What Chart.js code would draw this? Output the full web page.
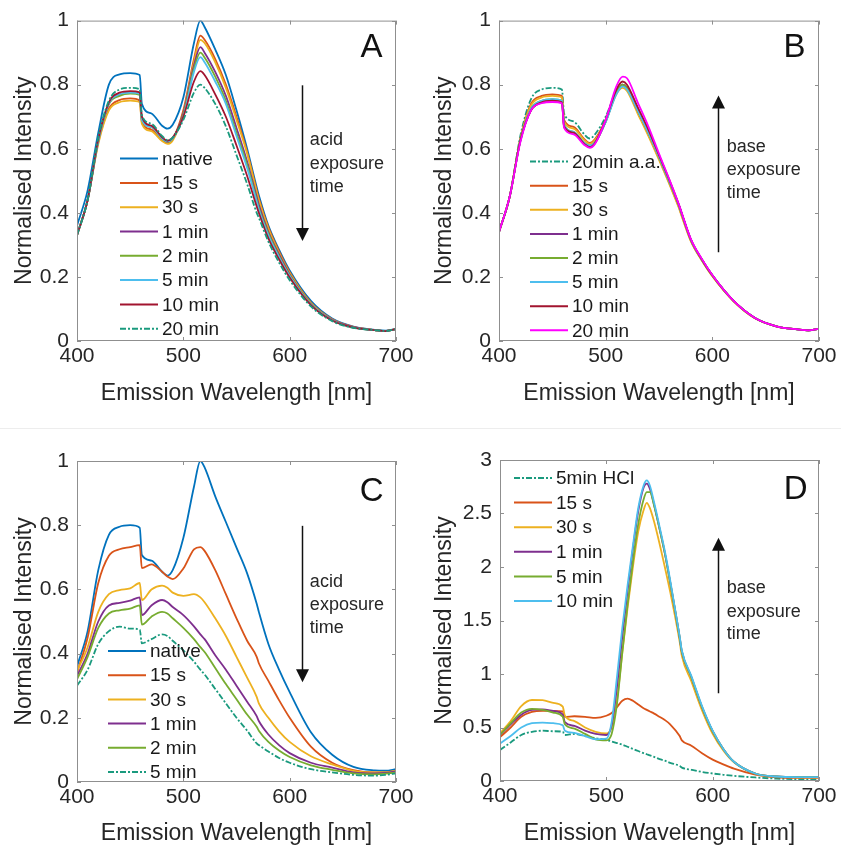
<!DOCTYPE html>
<html>
<head>
<meta charset="utf-8">
<title>Emission spectra</title>
<script src="https://cdn.jsdelivr.net/npm/chart.js@4.4.1/dist/chart.umd.min.js"></script>
<style>
  body { margin: 0; background: #fff; }
  #page { position: relative; width: 841px; height: 848px; overflow: hidden; }
  canvas { position: absolute; }
  .rule { position: absolute; left: 0; top: 428px; width: 841px; height: 1px; background: #ededed; }
</style>
</head>
<body>
<div id="page">
  <div class="rule"></div>
  <canvas id="chartA" width="420" height="410" style="left:0;top:0"></canvas>
  <canvas id="chartB" width="421" height="410" style="left:420px;top:0"></canvas>
  <canvas id="chartC" width="420" height="423" style="left:0;top:425px"></canvas>
  <canvas id="chartD" width="421" height="423" style="left:420px;top:425px"></canvas>
</div>
<script>
// wavelengths (nm) the spectra were read at; 459/461 and 569/571 bracket the detector steps
const wavelengthABC = [400,410,420,430,440,450,459,461,470,480,485,490,500,510,516,520,530,540,550,560,569,571,580,590,600,620,640,660,680,690,700];
const wavelengthD = [400,410,420,430,440,450,459,461,470,480,490,500,505,510,515,520,525,530,535,538,541,545,550,555,560,569,571,580,590,600,610,620,640,660,680,700];

// panel A - acid exposure
const labelsA = ['native','15 s','30 s','1 min','2 min','5 min','10 min','20 min'];
const nativeA = [0.36,0.47,0.65,0.80,0.832,0.836,0.83,0.74,0.71,0.672,0.663,0.675,0.76,0.93,1.0,0.98,0.91,0.83,0.72,0.60,0.48,0.455,0.36,0.285,0.22,0.125,0.07,0.045,0.035,0.032,0.038];
const s15A = [0.33,0.44,0.62,0.725,0.752,0.757,0.75,0.683,0.66,0.628,0.618,0.63,0.72,0.88,0.953,0.94,0.88,0.80,0.70,0.59,0.47,0.445,0.355,0.28,0.215,0.12,0.068,0.044,0.034,0.031,0.037];
const s30A = [0.33,0.44,0.615,0.72,0.745,0.75,0.745,0.678,0.655,0.624,0.615,0.626,0.71,0.87,0.94,0.93,0.87,0.79,0.69,0.585,0.465,0.44,0.35,0.275,0.212,0.118,0.067,0.043,0.034,0.031,0.037];
const m1A = [0.33,0.44,0.625,0.74,0.768,0.775,0.77,0.695,0.67,0.634,0.622,0.632,0.71,0.86,0.917,0.90,0.84,0.765,0.665,0.56,0.45,0.425,0.34,0.27,0.208,0.116,0.066,0.043,0.034,0.031,0.037];
const m2A = [0.33,0.44,0.625,0.74,0.765,0.772,0.768,0.69,0.668,0.632,0.622,0.632,0.705,0.85,0.90,0.885,0.825,0.75,0.65,0.55,0.44,0.415,0.335,0.265,0.205,0.115,0.065,0.042,0.034,0.031,0.037];
const m5A = [0.33,0.44,0.625,0.742,0.77,0.775,0.772,0.69,0.668,0.632,0.623,0.633,0.70,0.84,0.886,0.87,0.81,0.74,0.64,0.54,0.435,0.41,0.33,0.262,0.203,0.114,0.065,0.042,0.034,0.031,0.037];
const m10A = [0.33,0.44,0.63,0.745,0.775,0.78,0.776,0.70,0.672,0.636,0.625,0.635,0.70,0.81,0.842,0.83,0.77,0.70,0.61,0.515,0.42,0.40,0.32,0.255,0.198,0.112,0.064,0.042,0.034,0.031,0.037];
const m20A = [0.33,0.44,0.635,0.75,0.785,0.79,0.786,0.705,0.678,0.64,0.627,0.635,0.69,0.775,0.80,0.79,0.74,0.67,0.58,0.49,0.40,0.385,0.31,0.245,0.19,0.108,0.062,0.041,0.034,0.031,0.037];

// panel B - base exposure after 20 min acid
const labelsB = ['20min a.a.','15 s','30 s','1 min','2 min','5 min','10 min','20 min'];
const aa20B = [0.34,0.45,0.64,0.755,0.785,0.79,0.785,0.71,0.685,0.645,0.632,0.645,0.70,0.78,0.80,0.79,0.72,0.65,0.575,0.495,0.42,0.40,0.315,0.255,0.205,0.125,0.072,0.046,0.036,0.033,0.038];
const s15B = [0.34,0.45,0.63,0.74,0.765,0.77,0.765,0.69,0.668,0.63,0.618,0.63,0.69,0.775,0.80,0.79,0.715,0.645,0.57,0.49,0.415,0.395,0.312,0.253,0.203,0.124,0.071,0.046,0.036,0.033,0.038];
const s30B = [0.34,0.45,0.63,0.735,0.76,0.765,0.76,0.685,0.663,0.627,0.615,0.627,0.685,0.77,0.79,0.78,0.71,0.64,0.565,0.487,0.412,0.392,0.31,0.252,0.202,0.124,0.071,0.046,0.036,0.033,0.038];
const m1B = [0.34,0.45,0.625,0.72,0.745,0.75,0.745,0.67,0.65,0.615,0.605,0.618,0.685,0.775,0.80,0.79,0.72,0.65,0.575,0.495,0.42,0.40,0.315,0.255,0.205,0.125,0.072,0.046,0.036,0.033,0.038];
const m2B = [0.34,0.45,0.625,0.725,0.75,0.755,0.75,0.675,0.653,0.618,0.61,0.62,0.685,0.775,0.80,0.79,0.72,0.65,0.575,0.495,0.42,0.40,0.315,0.255,0.205,0.125,0.072,0.046,0.036,0.033,0.038];
const m5B = [0.34,0.45,0.625,0.725,0.75,0.755,0.75,0.675,0.653,0.618,0.61,0.62,0.683,0.77,0.795,0.785,0.72,0.65,0.575,0.495,0.42,0.40,0.315,0.255,0.205,0.125,0.072,0.046,0.036,0.033,0.038];
const m10B = [0.34,0.45,0.625,0.72,0.745,0.75,0.745,0.67,0.65,0.615,0.605,0.618,0.69,0.785,0.81,0.80,0.73,0.66,0.58,0.50,0.422,0.402,0.316,0.256,0.205,0.125,0.072,0.046,0.036,0.033,0.038];
const m20B = [0.34,0.45,0.62,0.72,0.742,0.746,0.742,0.665,0.645,0.612,0.603,0.615,0.69,0.795,0.825,0.82,0.745,0.67,0.585,0.502,0.423,0.403,0.317,0.257,0.206,0.125,0.072,0.046,0.036,0.033,0.038];

// panel C - acid exposure, second sample
const labelsC = ['native','15 s','30 s','1 min','2 min','5 min'];
const nativeC = [0.36,0.47,0.66,0.77,0.795,0.80,0.792,0.707,0.69,0.655,0.643,0.66,0.76,0.92,1.0,0.98,0.89,0.81,0.73,0.65,0.555,0.53,0.43,0.35,0.28,0.155,0.085,0.047,0.036,0.035,0.04];
const s15C = [0.34,0.45,0.62,0.705,0.725,0.732,0.738,0.666,0.678,0.655,0.64,0.632,0.665,0.725,0.732,0.72,0.66,0.585,0.51,0.44,0.39,0.37,0.315,0.255,0.20,0.11,0.06,0.037,0.03,0.03,0.035];
const s30C = [0.345,0.42,0.53,0.585,0.598,0.603,0.62,0.567,0.60,0.612,0.605,0.59,0.58,0.585,0.575,0.56,0.51,0.455,0.39,0.325,0.265,0.245,0.20,0.158,0.125,0.08,0.055,0.035,0.03,0.03,0.035];
const m1C = [0.33,0.40,0.50,0.55,0.558,0.565,0.575,0.52,0.55,0.567,0.56,0.545,0.52,0.485,0.46,0.445,0.395,0.35,0.30,0.25,0.205,0.19,0.148,0.115,0.09,0.06,0.045,0.03,0.027,0.028,0.033];
const m2C = [0.32,0.39,0.48,0.525,0.535,0.54,0.55,0.49,0.515,0.53,0.525,0.51,0.48,0.445,0.42,0.405,0.355,0.305,0.258,0.21,0.172,0.16,0.125,0.098,0.078,0.052,0.038,0.027,0.024,0.026,0.03];
const m5C = [0.30,0.35,0.43,0.47,0.484,0.478,0.475,0.432,0.445,0.46,0.455,0.44,0.41,0.375,0.35,0.335,0.29,0.245,0.20,0.16,0.12,0.115,0.095,0.075,0.06,0.04,0.03,0.022,0.02,0.022,0.027];

// panel D - base exposure after 5 min HCl
const labelsD = ['5min HCl','15 s','30 s','1 min','5 min','10 min'];
const hclD = [0.29,0.36,0.43,0.46,0.47,0.465,0.46,0.43,0.44,0.42,0.40,0.385,0.37,0.355,0.34,0.32,0.30,0.28,0.26,0.25,0.24,0.225,0.205,0.19,0.17,0.14,0.125,0.105,0.085,0.07,0.058,0.048,0.033,0.022,0.017,0.015];
const s15D = [0.41,0.50,0.60,0.645,0.655,0.655,0.65,0.60,0.605,0.60,0.59,0.61,0.635,0.69,0.75,0.77,0.75,0.715,0.68,0.665,0.65,0.63,0.60,0.57,0.53,0.42,0.38,0.33,0.26,0.20,0.155,0.115,0.06,0.035,0.03,0.03];
const s30D = [0.445,0.56,0.70,0.757,0.755,0.73,0.695,0.61,0.56,0.50,0.46,0.445,0.50,0.75,1.2,1.62,2.0,2.33,2.53,2.60,2.55,2.42,2.22,2.0,1.77,1.30,1.17,0.93,0.66,0.44,0.285,0.175,0.068,0.04,0.035,0.035];
const m1D = [0.43,0.53,0.62,0.665,0.67,0.655,0.62,0.55,0.515,0.47,0.44,0.43,0.52,0.88,1.35,1.78,2.17,2.52,2.74,2.78,2.73,2.58,2.36,2.13,1.86,1.34,1.21,0.97,0.69,0.465,0.30,0.18,0.07,0.042,0.037,0.037];
const m5D = [0.43,0.54,0.64,0.675,0.665,0.64,0.60,0.53,0.49,0.44,0.39,0.38,0.44,0.72,1.2,1.65,2.05,2.40,2.63,2.70,2.70,2.57,2.36,2.13,1.86,1.34,1.21,0.97,0.69,0.465,0.30,0.18,0.07,0.042,0.037,0.037];
const m10D = [0.35,0.42,0.50,0.54,0.545,0.54,0.52,0.47,0.45,0.42,0.39,0.395,0.55,0.97,1.43,1.83,2.2,2.55,2.76,2.81,2.76,2.6,2.38,2.15,1.88,1.35,1.22,0.98,0.70,0.47,0.30,0.18,0.07,0.042,0.037,0.037];

const FONT = "'Liberation Sans', Arial, Helvetica, sans-serif";
const INK = '#262626';
const BLUE = '#0072bd', ORANGE = '#d95319', YELLOW = '#edb120', PURPLE = '#7e2f8e';
const GREEN = '#77ac30', CYAN = '#4dbeee', WINE = '#a2142f', TEAL = '#1a9a7e', MAGENTA = '#ff00ff';
const DASHDOT = [6, 2, 2, 2];

// MATLAB-like box, inward ticks, in-axes legend and the annotations
const specFrame = {
    id: 'specFrame',
    afterDatasetsDraw(chart, args, opts) {
        const ctx = chart.ctx;
        const area = chart.chartArea;
        const xs = chart.scales.x, ys = chart.scales.y;
        ctx.save();

        ctx.strokeStyle = '#8f8f8f';
        ctx.lineWidth = 1;
        ctx.setLineDash([]);
        ctx.strokeRect(area.left + 0.5, area.top + 0.5, area.right - area.left - 1, area.bottom - area.top - 1);
        ctx.beginPath();
        xs.ticks.forEach(t => {
            const px = Math.round(xs.getPixelForValue(t.value)) + 0.5;
            ctx.moveTo(px, area.bottom); ctx.lineTo(px, area.bottom - 4);
            ctx.moveTo(px, area.top); ctx.lineTo(px, area.top + 4);
        });
        ys.ticks.forEach(t => {
            const py = Math.round(ys.getPixelForValue(t.value)) + 0.5;
            ctx.moveTo(area.left, py); ctx.lineTo(area.left + 4, py);
            ctx.moveTo(area.right, py); ctx.lineTo(area.right - 4, py);
        });
        ctx.stroke();

        ctx.font = '19px ' + FONT;
        ctx.textBaseline = 'middle';
        ctx.textAlign = 'left';
        chart.data.datasets.forEach((ds, i) => {
            const lx = area.left + opts.legend.dx;
            const ly = area.top + opts.legend.dy + i * opts.legend.step;
            ctx.strokeStyle = ds.borderColor;
            ctx.lineWidth = 2;
            ctx.setLineDash(ds.borderDash || []);
            ctx.beginPath();
            ctx.moveTo(lx, ly);
            ctx.lineTo(lx + 38, ly);
            ctx.stroke();
            ctx.setLineDash([]);
            ctx.fillStyle = '#1a1a1a';
            ctx.fillText(ds.label, lx + 42, ly + 1);
        });

        ctx.font = '33px ' + FONT;
        ctx.textAlign = 'center';
        ctx.fillStyle = '#111';
        ctx.fillText(opts.letter.text, xs.getPixelForValue(opts.letter.x), ys.getPixelForValue(opts.letter.y));

        ctx.font = '18px ' + FONT;
        ctx.textAlign = 'left';
        ctx.fillStyle = INK;
        opts.note.lines.forEach((s, i) => {
            ctx.fillText(s, xs.getPixelForValue(opts.note.x), ys.getPixelForValue(opts.note.y[i]));
        });

        const ax = Math.round(xs.getPixelForValue(opts.arrow.x)) + 0.5;
        const y0 = ys.getPixelForValue(opts.arrow.from);
        const y1 = ys.getPixelForValue(opts.arrow.to);
        const dir = Math.sign(y1 - y0);
        ctx.strokeStyle = '#111';
        ctx.fillStyle = '#111';
        ctx.lineWidth = 1.5;
        ctx.beginPath();
        ctx.moveTo(ax, y0);
        ctx.lineTo(ax, y1 - dir * 11);
        ctx.stroke();
        ctx.beginPath();
        ctx.moveTo(ax, y1);
        ctx.lineTo(ax - 6.5, y1 - dir * 13);
        ctx.lineTo(ax + 6.5, y1 - dir * 13);
        ctx.closePath();
        ctx.fill();
        ctx.restore();
    }
};

function Create_Spectrum_Chart(canvasId, wavelengths, labels, values, colors, dashed, panel) {
    const ctx = document.getElementById(canvasId);
    if (!ctx) {
        console.error(`Error finding canvas element ID ${canvasId}`);
        return null;
    }

    const datasets = labels.map((label, i) => ({
        label: label,
        data: wavelengths.map((w, j) => ({ x: w, y: values[i][j] })),
        borderColor: colors[i],
        borderWidth: 1.8,
        borderDash: dashed[i] ? DASHDOT : [],
        pointRadius: 0,
        cubicInterpolationMode: 'monotone',
        order: -i
    }));

    return new Chart(ctx, {
        type: 'line',
        data: { datasets: datasets },
        plugins: [specFrame],
        options: {
            responsive: false,
            animation: false,
            events: [],
            layout: { padding: { top: panel.top, right: panel.right, left: 0, bottom: 0 } },
            scales: {
                x: {
                    type: 'linear',
                    min: 400,
                    max: 700,
                    grid: { display: false, drawTicks: false },
                    border: { display: false },
                    ticks: { stepSize: 100, padding: 3, maxRotation: 0, color: INK, font: { family: FONT, size: 21 } },
                    title: {
                        display: true,
                        text: 'Emission Wavelength [nm]',
                        color: INK,
                        font: { family: FONT, size: 23 },
                        padding: { top: 0, bottom: panel.titlePad }
                    },
                    afterFit: scale => { scale.height = panel.xHeight; }
                },
                y: {
                    min: 0,
                    max: panel.yMax,
                    grid: { display: false, drawTicks: false },
                    border: { display: false },
                    ticks: {
                        stepSize: panel.yStep,
                        padding: 8,
                        color: INK,
                        font: { family: FONT, size: 21 },
                        callback: v => String(Number(v.toFixed(1)))
                    },
                    title: {
                        display: true,
                        text: 'Normalised Intensity',
                        color: INK,
                        font: { family: FONT, size: 23 },
                        padding: { top: 11, bottom: 0 }
                    },
                    afterFit: scale => { scale.width = panel.yWidth; }
                }
            },
            plugins: {
                legend: { display: false },
                tooltip: { enabled: false },
                specFrame: panel.frame
            }
        }
    });
}

Create_Spectrum_Chart('chartA', wavelengthABC, labelsA,
    [nativeA, s15A, s30A, m1A, m2A, m5A, m10A, m20A],
    [BLUE, ORANGE, YELLOW, PURPLE, GREEN, CYAN, WINE, TEAL],
    [false, false, false, false, false, false, false, true],
    { top: 20, right: 24, yWidth: 77, xHeight: 69, titlePad: 3, yMax: 1, yStep: 0.2,
      frame: {
        legend: { dx: 43, dy: 138, step: 24.3 },
        letter: { text: 'A', x: 677, y: 0.915 },
        note: { lines: ['acid', 'exposure', 'time'], x: 619, y: [0.626, 0.551, 0.48] },
        arrow: { x: 612, from: 0.798, to: 0.312 }
      } });

Create_Spectrum_Chart('chartB', wavelengthABC, labelsB,
    [aa20B, s15B, s30B, m1B, m2B, m5B, m10B, m20B],
    [TEAL, ORANGE, YELLOW, PURPLE, GREEN, CYAN, WINE, MAGENTA],
    [true, false, false, false, false, false, false, false],
    { top: 20, right: 22, yWidth: 79, xHeight: 69, titlePad: 3, yMax: 1, yStep: 0.2,
      frame: {
        legend: { dx: 31, dy: 141, step: 24.1 },
        letter: { text: 'B', x: 677, y: 0.915 },
        note: { lines: ['base', 'exposure', 'time'], x: 613.5, y: [0.605, 0.533, 0.462] },
        arrow: { x: 605, from: 0.277, to: 0.766 }
      } });

Create_Spectrum_Chart('chartC', wavelengthABC, labelsC,
    [nativeC, s15C, s30C, m1C, m2C, m5C],
    [BLUE, ORANGE, YELLOW, PURPLE, GREEN, TEAL],
    [false, false, false, false, false, true],
    { top: 36, right: 24, yWidth: 77, xHeight: 66, titlePad: 1, yMax: 1, yStep: 0.2,
      frame: {
        legend: { dx: 31, dy: 190, step: 24.2 },
        letter: { text: 'C', x: 677, y: 0.905 },
        note: { lines: ['acid', 'exposure', 'time'], x: 619, y: [0.624, 0.551, 0.481] },
        arrow: { x: 612, from: 0.798, to: 0.311 }
      } });

Create_Spectrum_Chart('chartD', wavelengthD, labelsD,
    [hclD, s15D, s30D, m1D, m5D, m10D],
    [TEAL, ORANGE, YELLOW, PURPLE, GREEN, CYAN],
    [true, false, false, false, false, false],
    { top: 35, right: 22, yWidth: 80, xHeight: 67, titlePad: 1, yMax: 3, yStep: 0.5,
      frame: {
        legend: { dx: 14, dy: 18, step: 24.6 },
        letter: { text: 'D', x: 678, y: 2.72 },
        note: { lines: ['base', 'exposure', 'time'], x: 613.2, y: [1.80, 1.582, 1.371] },
        arrow: { x: 604.7, from: 0.82, to: 2.274 }
      } });
</script>
</body>
</html>
